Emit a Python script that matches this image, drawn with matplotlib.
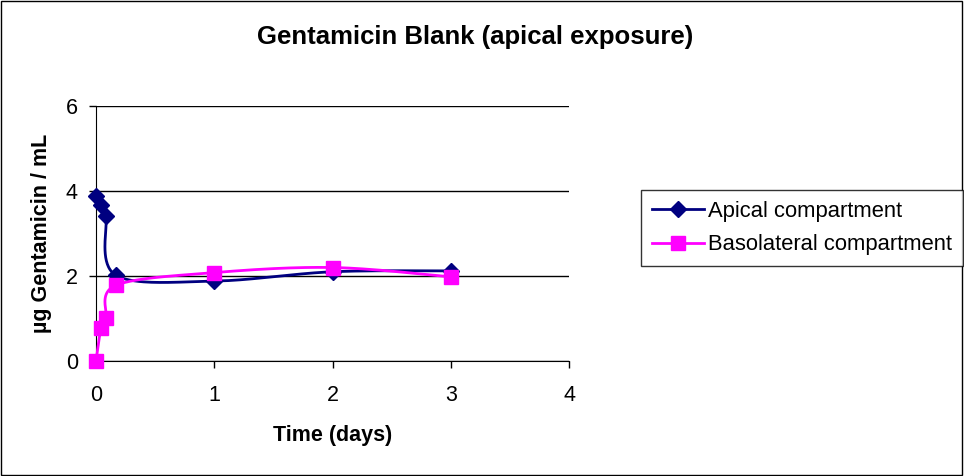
import numpy as np
import matplotlib.pyplot as plt

plt.rcParams['font.family'] = ['Liberation Sans', 'DejaVu Sans']

# sampling times (days) and concentrations
time_days = [0, 0.042, 0.083, 0.167, 1, 2, 3]
apical = [3.88, 3.66, 3.42, 2.02, 1.88, 2.1, 2.12]
basolateral = [0.0, 0.77, 1.0, 1.78, 2.08, 2.2, 1.98]


def smooth(x, y, n=40):
    # bezier smoothing through every point, control points from neighbours
    x = np.asarray(x, float)
    y = np.asarray(y, float)
    pts = np.column_stack([x, y])
    out = []
    for i in range(len(pts) - 1):
        p0 = pts[i - 1] if i > 0 else pts[i]
        p1 = pts[i]
        p2 = pts[i + 1]
        p3 = pts[i + 2] if i + 2 < len(pts) else pts[i + 1]
        c1 = p1 + (p2 - p0) / 6
        c2 = p2 - (p3 - p1) / 6
        t = np.linspace(0, 1, n)[:, None]
        seg = ((1 - t) ** 3) * p1 + 3 * ((1 - t) ** 2) * t * c1 + 3 * (1 - t) * t ** 2 * c2 + t ** 3 * p2
        out.append(seg if i == 0 else seg[1:])
    seg = np.vstack(out)
    return seg[:, 0], seg[:, 1]


fig = plt.figure(figsize=(9.64, 4.76), dpi=100)
ax = fig.add_axes([0.0996, 0.2416, 0.4907, 0.5357])

navy = '#000080'
magenta = '#ff00ff'

sx, sy = smooth(time_days, apical)
ax.plot(sx, sy, color=navy, lw=2, clip_on=False, zorder=3)
ax.plot(time_days, apical, ls='none', marker='D', ms=8, color=navy, clip_on=False, zorder=4)

sx, sy = smooth(time_days, basolateral)
ax.plot(sx, sy, color=magenta, lw=2, clip_on=False, zorder=3)
ax.plot(time_days, basolateral, ls='none', marker='s', ms=10, color=magenta, clip_on=False, zorder=5)

# legend proxies
ax.plot([], [], color=navy, lw=2, marker='D', ms=8, label='Apical compartment')
ax.plot([], [], color=magenta, lw=2, marker='s', ms=10, label='Basolateral compartment')

ax.set_xlim(0, 4)
ax.set_ylim(0, 6)
ax.set_xticks([0, 1, 2, 3, 4])
ax.set_yticks([0, 2, 4, 6])
ax.yaxis.grid(True, color='black', lw=1)
ax.set_axisbelow(True)
for s in ['top', 'right']:
    ax.spines[s].set_visible(False)
ax.tick_params(labelsize=15.5, length=5, width=1, direction='out')
ax.tick_params(axis='x', pad=12)
ax.tick_params(axis='y', pad=8)

ax.set_xlabel('Time (days)', fontsize=15.5, fontweight='bold', labelpad=14)
ax.set_ylabel('µg Gentamicin / mL', fontsize=15.5, fontweight='bold', labelpad=10)
fig.text(0.493, 0.922, 'Gentamicin Blank (apical exposure)', ha='center', va='center',
         fontsize=18.5, fontweight='bold')

handles, labels = ax.get_legend_handles_labels()
leg = fig.legend(handles, labels, loc='upper left', bbox_to_anchor=(0.665, 0.601),
                 fontsize=15.8, frameon=True, fancybox=False, handlelength=2.35,
                 borderpad=0.5, labelspacing=0.57, handletextpad=0.2, borderaxespad=0)
leg.get_frame().set_edgecolor('black')
leg.get_frame().set_linewidth(1)

# outer chart border
fig.patches.append(plt.Rectangle((0.001, 0.002), 0.997, 0.996, transform=fig.transFigure,
                                 fill=False, edgecolor='black', lw=1))

fig.savefig('out.png', dpi=100)
